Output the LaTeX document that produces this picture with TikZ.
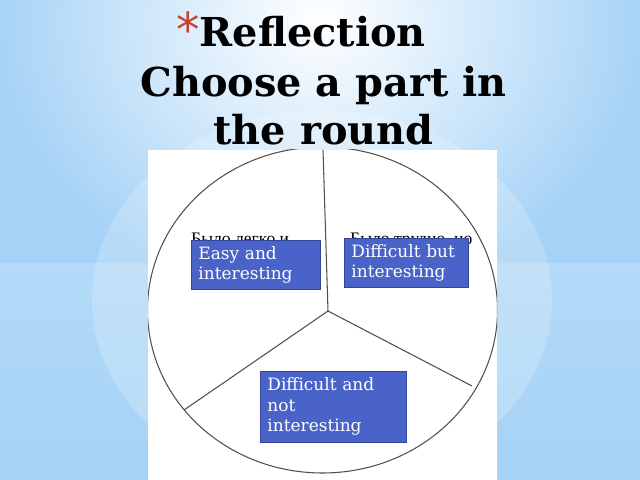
\documentclass[tikz,border=0pt]{standalone}
\usepackage{fontspec}
\setmainfont{DejaVu Serif}
\newfontfamily\rusfont{Liberation Serif}
\newfontfamily\bulletfont{DejaVu Sans}
\usetikzlibrary{positioning}

\definecolor{sky}{HTML}{A5D2F6}
\definecolor{skylow}{HTML}{B3DAF8}
\definecolor{boxblue}{HTML}{4A63C9}
\definecolor{boxedge}{HTML}{34449A}
\definecolor{bulletred}{HTML}{C8412B}
\definecolor{spoke}{HTML}{505050}

\begin{document}
\begin{tikzpicture}[x=0.03cm, y=-0.03cm,
    choice/.style={draw=boxedge, line width=0.6pt, fill=boxblue, text=white,
      align=left, anchor=north west, inner xsep=6pt, inner ysep=2pt,
      font=\fontsize{14.5}{17.5}\selectfont},
    title/.style={anchor=base, inner sep=0pt, font=\bfseries\fontsize{34}{40}\selectfont},
    hidden/.style={anchor=base west, inner sep=0pt, font=\rusfont\fontsize{15}{18}\selectfont},
    rim/.style={spoke, line width=0.9pt}]
  \useasboundingbox (0,0) rectangle (640,480);
  % background
  \fill[sky] (0,0) rectangle (640,480);
  \shade[inner color=white, outer color=sky] (320,20) ellipse [x radius=330, y radius=280];
  \shade[top color=skylow, bottom color=sky] (0,263) rectangle (640,480);
  \fill[white, opacity=0.2] (322,300) ellipse [x radius=230, y radius=190];
  \fill[white] (148,150) rectangle (497,480);

  % title
  \node[title, anchor=base west] (t1) at (176,47)
    {{\mdseries\bulletfont\fontsize{40}{40}\selectfont\color{bulletred}*}Reflection};
  \node[title] (t2) at (323.5,97) {Choose a part in};
  \node[title] (t3) at (323.5,145) {the round};

  % the round
  \coordinate (hub) at (328,311);
  \coordinate (top) at (323,150);
  \coordinate (right) at (472,386);
  \coordinate (left) at (184,410);
  \begin{scope}
    \clip (148,150) rectangle (497,480);
    \draw[rim] (322.5,310) ellipse [x radius=175, y radius=163];
    \draw[rim] (hub) -- (top);
    \draw[rim] (hub) -- (right);
    \draw[rim] (hub) -- (left);
  \end{scope}

  \node[hidden] (ru1) at (191,244) {Было легко и};
  \node[hidden] (ru2) at (350,244) {Было трудно, но};

  \node[choice, text width=3.45cm, minimum height=1.47cm] (easy) at (191,240)
    {Easy and\\interesting};
  \node[choice, text width=3.30cm, minimum height=1.47cm] (hardgood) at (344,238)
    {Difficult but\\interesting};
  \node[choice, text width=3.96cm, minimum height=2.13cm] (hardbad) at (260,371)
    {Difficult and\\not\\interesting};
\end{tikzpicture}
\end{document}
